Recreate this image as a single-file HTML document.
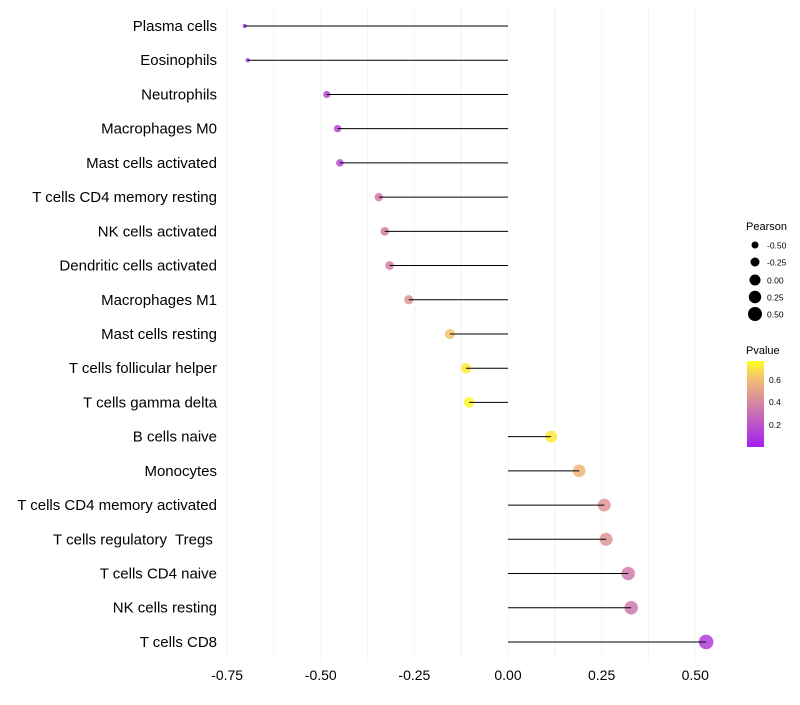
<!DOCTYPE html>
<html><head><meta charset="utf-8"><style>
body{margin:0;background:#fff;font-family:"Liberation Sans",sans-serif}
text{white-space:pre}
</style></head><body>
<svg id="chart" width="800" height="700" xmlns="http://www.w3.org/2000/svg">
<g id="grid"></g>
<g id="marks"></g>
<g id="labels"></g>
<g id="xticks"></g>
<g font-size="10">
<text x="746" y="230" font-size="11">Pearson</text>
<circle cx="755" cy="245" r="3.5" fill="#000"/><text x="767" y="248.5" font-size="8.5">-0.50</text>
<circle cx="755" cy="262" r="4.5" fill="#000"/><text x="767" y="265.5" font-size="8.5">-0.25</text>
<circle cx="755" cy="280" r="5.5" fill="#000"/><text x="767" y="283.5" font-size="8.5">0.00</text>
<circle cx="755" cy="297" r="6.2" fill="#000"/><text x="767" y="300.5" font-size="8.5">0.25</text>
<circle cx="755" cy="314" r="7" fill="#000"/><text x="767" y="317.5" font-size="8.5">0.50</text>
</g>
<g>
<defs><linearGradient id="pg" x1="0" y1="1" x2="0" y2="0">
<stop offset="0" stop-color="#A020F0"/><stop offset="0.5" stop-color="#D584A6"/><stop offset="0.8" stop-color="#F2C070"/><stop offset="1" stop-color="#FFFF20"/></linearGradient></defs>
<text x="746" y="354" font-size="11">Pvalue</text>
<rect x="747" y="361" width="17" height="86" fill="url(#pg)"/>
<text x="769" y="383" font-size="8.5">0.6</text>
<text x="769" y="405" font-size="8.5">0.4</text>
<text x="769" y="428" font-size="8.5">0.2</text>
</g>
</svg>
<script>
const cats=["Plasma cells","Eosinophils","Neutrophils","Macrophages M0","Mast cells activated","T cells CD4 memory resting","NK cells activated","Dendritic cells activated","Macrophages M1","Mast cells resting","T cells follicular helper","T cells gamma delta","B cells naive","Monocytes","T cells CD4 memory activated","T cells regulatory  Tregs ","T cells CD4 naive","NK cells resting","T cells CD8"];
const pearson=[-0.703,-0.695,-0.484,-0.455,-0.449,-0.345,-0.329,-0.316,-0.265,-0.155,-0.112,-0.104,0.115,0.19,0.257,0.262,0.321,0.329,0.529];
const pvalue=[0.01,0.02,0.15,0.17,0.17,0.35,0.36,0.37,0.45,0.62,0.72,0.75,0.72,0.58,0.46,0.45,0.35,0.34,0.12];
const xticks=[-0.75,-0.5,-0.25,0,0.25,0.5];
const xticklabels=["-0.75","-0.50","-0.25","0.00","0.25","0.50"];
const NS="http://www.w3.org/2000/svg";
const xs=v=>508+v*374.5;
const ys=i=>26+i*34.22;
const stops=[[0,[160,32,240]],[0.5,[213,132,166]],[0.8,[242,192,112]],[1,[255,255,32]]];
function col(p){let t=Math.max(0,Math.min(1,(p-0.004)/(0.77-0.004)));
 for(let k=1;k<stops.length;k++){if(t<=stops[k][0]){const a=stops[k-1],b=stops[k];const f=(t-a[0])/(b[0]-a[0]);
 return "rgb("+a[1].map((c,j)=>Math.round(c+(b[1][j]-c)*f)).join(",")+")";}}return "rgb(255,255,32)";}
function mk(tag,attrs,parent){const e=document.createElementNS(NS,tag);for(const k in attrs)e.setAttribute(k,attrs[k]);parent.appendChild(e);return e;}
const grid=document.getElementById('grid'),marks=document.getElementById('marks'),labels=document.getElementById('labels'),xt=document.getElementById('xticks');
for(let v=-0.875;v<=0.6;v+=0.125){if(xs(v)<225)continue;const l=mk('line',{x1:xs(v),x2:xs(v),y1:5,y2:660,stroke:'#f3f3f3','stroke-width':1},grid);

}
xticks.forEach((v,i)=>{const t=mk('text',{x:xs(v),y:680,'text-anchor':'middle','font-size':14,fill:'#000'},xt);t.textContent=xticklabels[i];

});
cats.forEach((c,i)=>{const y=ys(i);
const t=mk('text',{x:217,y:y+5,'text-anchor':'end','font-size':15,fill:'#000'},labels);t.textContent=c;


const r=Math.sqrt(4+40*(pearson[i]+0.703));
const d=mk('circle',{cx:xs(pearson[i]),cy:y,r:r,fill:col(pvalue[i]),'fill-opacity':0.85},marks);


const s=mk('line',{x1:xs(0),x2:xs(pearson[i]),y1:y,y2:y,stroke:'#000','stroke-width':1},marks);


});
</script>
</body></html>
